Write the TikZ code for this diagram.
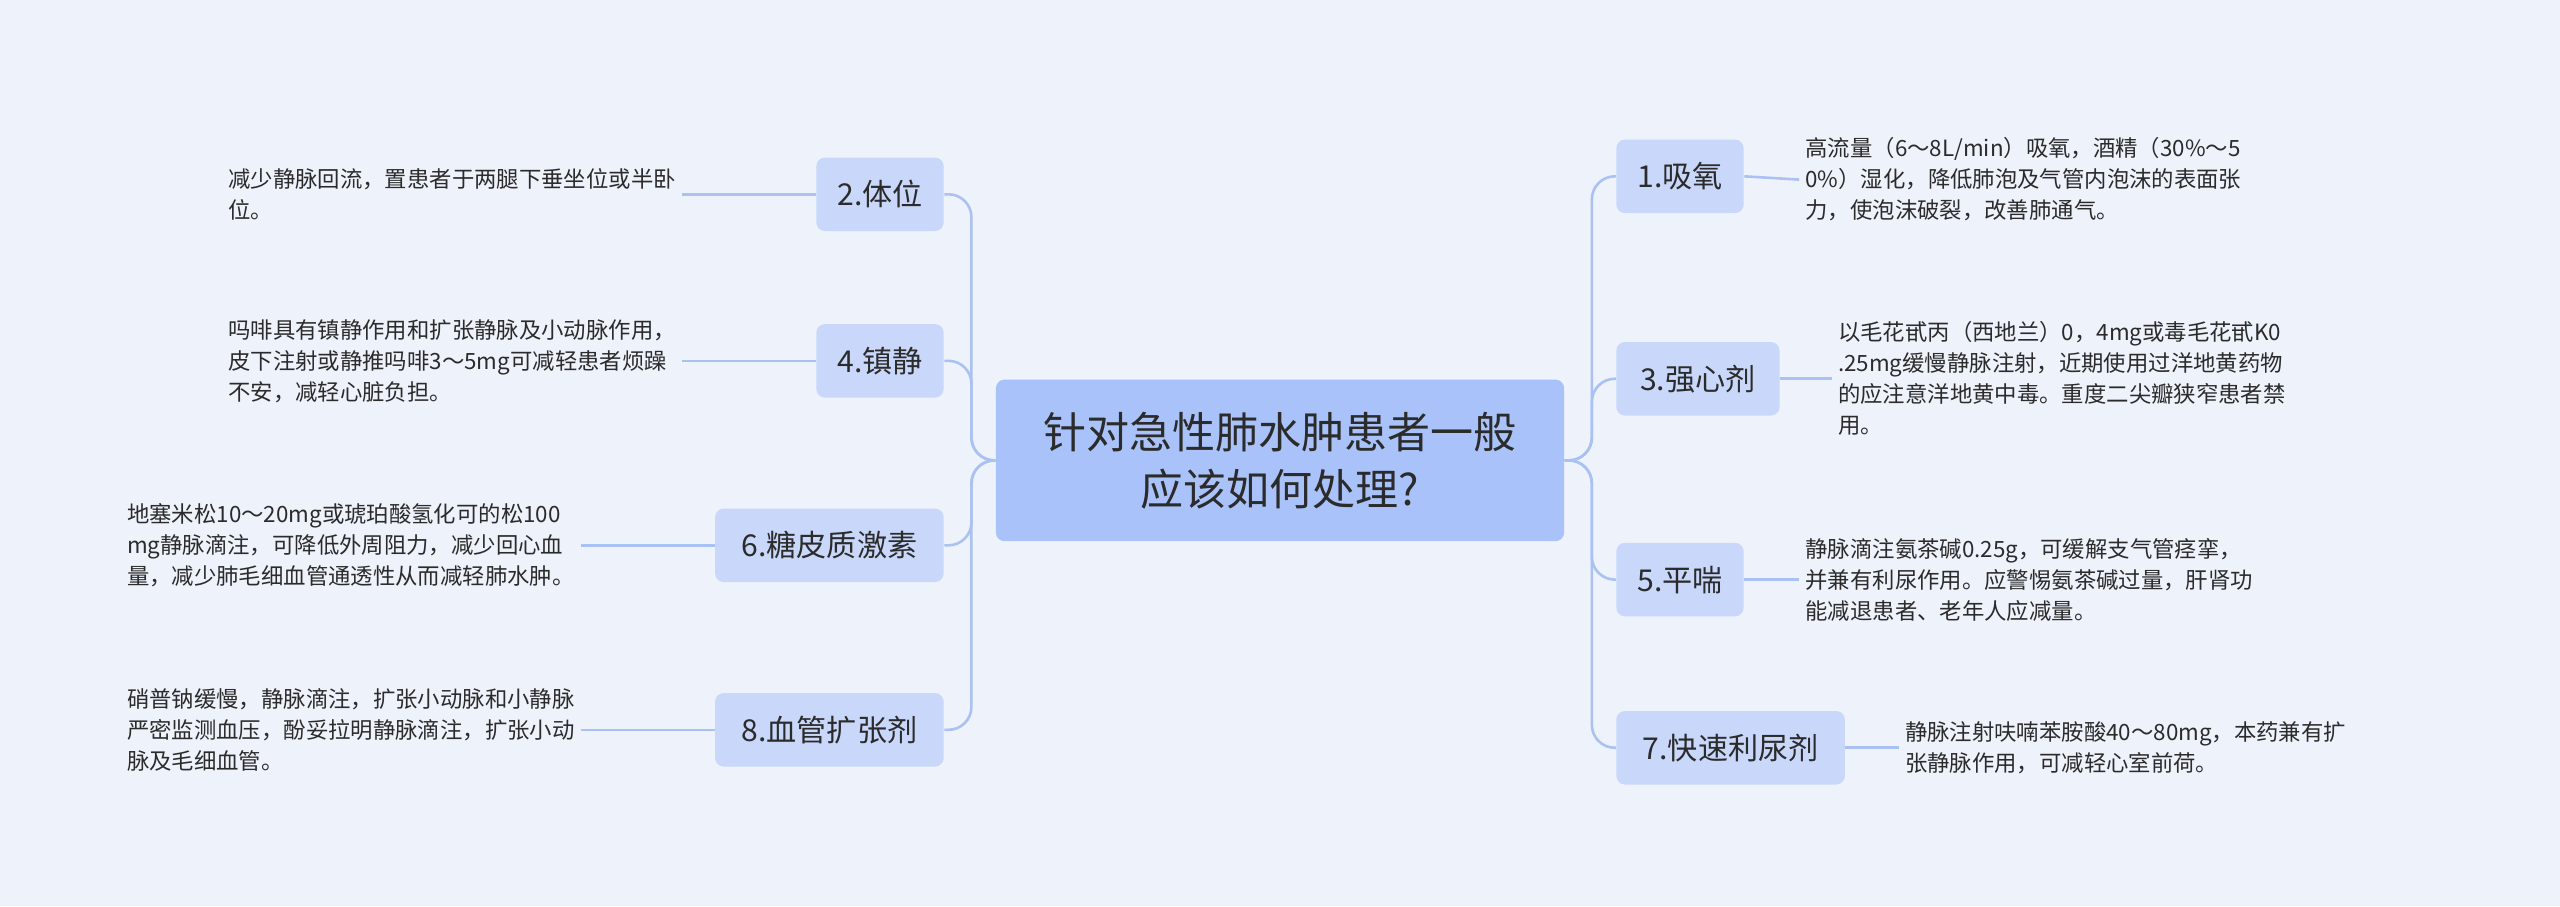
\documentclass[tikz,border=0pt]{standalone}
\usepackage{fontspec}
\setmainfont{Noto Sans CJK SC}
\begin{document}
\begin{tikzpicture}[x=0.02cm,y=-0.02cm,
  cen/.style={fill=cenc,rounded corners=3pt,minimum width=348*0.02cm,minimum height=99*0.02cm,align=center,font=\fontsize{15}{20}\selectfont,text=txt},
  br/.style={fill=brc,rounded corners=3pt,minimum height=45*0.02cm,inner xsep=5pt,font=\fontsize{10.5}{12}\selectfont,text=txt},
  leaf/.style={align=left,font=\fontsize{7.8}{10.8}\selectfont,text=txt,inner sep=2pt},
  ln/.style={draw=lnc,line width=0.9pt}]
\definecolor{bgc}{HTML}{EEF2FB}
\definecolor{cenc}{HTML}{A9C3FA}
\definecolor{brc}{HTML}{C9D8FA}
\definecolor{lnc}{HTML}{A9C1F3}
\definecolor{txt}{HTML}{2B2B2B}
\fill[bgc] (0,0) rectangle (1568,555);
\useasboundingbox (0,0) rectangle (1568,555);
\node[cen] (c) at (784,282) {针对急性肺水肿患者一般\\应该如何处理?};
\coordinate (tr) at (975,282);
\coordinate (tl) at (595,282);
% right branches
\node[br,minimum width=78*0.02cm] (b1) at (1029,108) {1.吸氧};
\node[br,minimum width=100*0.02cm] (b3) at (1040,232) {3.强心剂};
\node[br,minimum width=78*0.02cm] (b5) at (1029,355) {5.平喘};
\node[br,minimum width=140*0.02cm] (b7) at (1060,458) {7.快速利尿剂};
% left branches
\node[br,minimum width=78*0.02cm] (b2) at (539,119) {2.体位};
\node[br,minimum width=78*0.02cm] (b4) at (539,221) {4.镇静};
\node[br,minimum width=140*0.02cm] (b6) at (508,334) {6.糖皮质激素};
\node[br,minimum width=140*0.02cm] (b8) at (508,447) {8.血管扩张剂};
\foreach \b in {b1,b3,b5,b7}{\draw[ln,rounded corners=8pt] (c.east) -- (tr) |- (\b.west);}
\foreach \b in {b2,b4,b6,b8}{\draw[ln,rounded corners=8pt] (c.west) -- (tl) |- (\b.east);}
% leaves right
\node[leaf,anchor=west] (l1) at (1102,110) {高流量（6～8L/min）吸氧，酒精（30\%～5\\0\%）湿化，降低肺泡及气管内泡沫的表面张\\力，使泡沫破裂，改善肺通气。};
\node[leaf,anchor=west] (l3) at (1122,232) {以毛花甙丙（西地兰）0，4mg或毒毛花甙K0\\.25mg缓慢静脉注射，近期使用过洋地黄药物\\的应注意洋地黄中毒。重度二尖瓣狭窄患者禁\\用。};
\node[leaf,anchor=west] (l5) at (1102,355) {静脉滴注氨茶碱0.25g，可缓解支气管痉挛，\\并兼有利尿作用。应警惕氨茶碱过量，肝肾功\\能减退患者、老年人应减量。};
\node[leaf,anchor=west] (l7) at (1163,458) {静脉注射呋喃苯胺酸40～80mg，本药兼有扩\\张静脉作用，可减轻心室前荷。};
% leaves left
\node[leaf,anchor=west] (l2) at (136,119) {减少静脉回流，置患者于两腿下垂坐位或半卧\\位。};
\node[leaf,anchor=west] (l4) at (136,221) {吗啡具有镇静作用和扩张静脉及小动脉作用，\\皮下注射或静推吗啡3～5mg可减轻患者烦躁\\不安，减轻心脏负担。};
\node[leaf,anchor=west] (l6) at (74,334) {地塞米松10～20mg或琥珀酸氢化可的松100\\mg静脉滴注，可降低外周阻力，减少回心血\\量，减少肺毛细血管通透性从而减轻肺水肿。};
\node[leaf,anchor=west] (l8) at (74,447) {硝普钠缓慢，静脉滴注，扩张小动脉和小静脉\\严密监测血压，酚妥拉明静脉滴注，扩张小动\\脉及毛细血管。};
\draw[ln] (b1.east) -- (l1.west);
\draw[ln] (b3.east) -- (l3.west);
\draw[ln] (b5.east) -- (l5.west);
\draw[ln] (b7.east) -- (l7.west);
\draw[ln] (b2.west) -- (l2.east);
\draw[ln] (b4.west) -- (l4.east);
\draw[ln] (b6.west) -- (l6.east);
\draw[ln] (b8.west) -- (l8.east);
\end{tikzpicture}
\end{document}
